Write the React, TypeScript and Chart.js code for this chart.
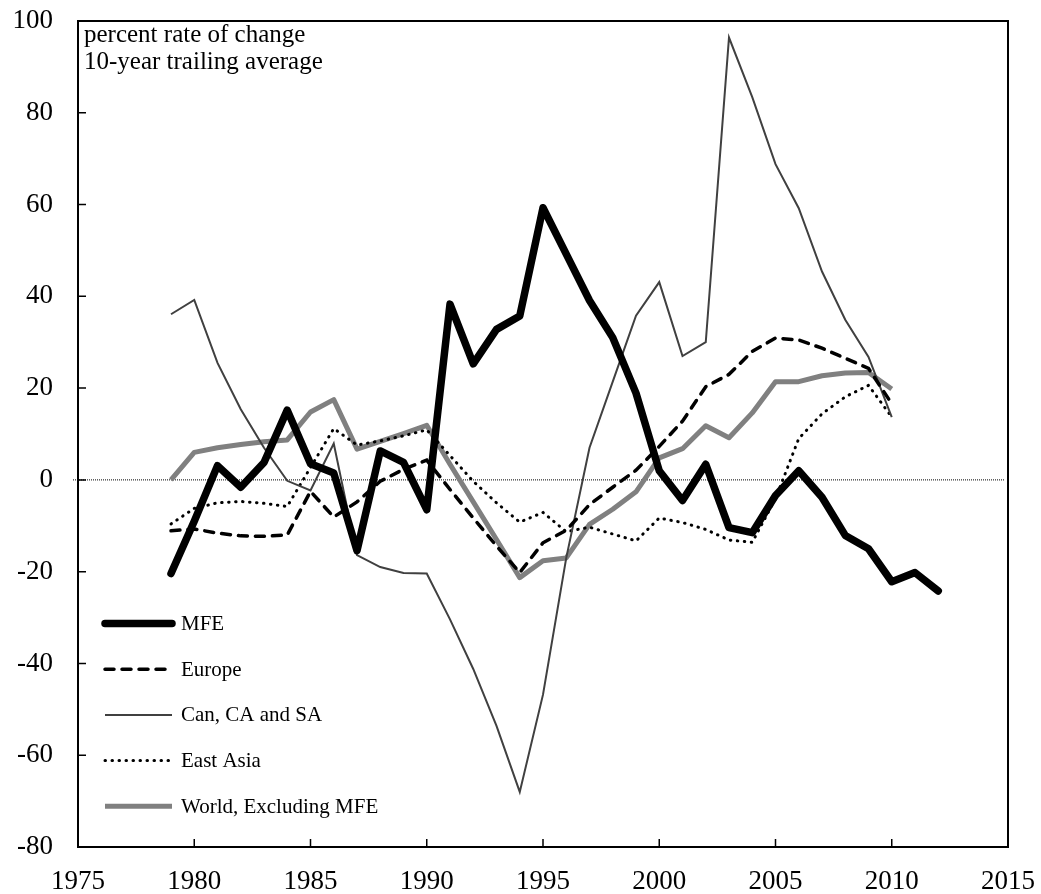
import React, { useEffect, useRef } from "react";
import { Chart, registerables } from "chart.js";

Chart.register(...registerables);

const FONT = "'Liberation Serif', 'Times New Roman', serif";

// Years
const yearsMFE = [
  1979, 1980, 1981, 1982, 1983, 1984, 1985, 1986, 1987, 1988, 1989, 1990,
  1991, 1992, 1993, 1994, 1995, 1996, 1997, 1998, 1999, 2000, 2001, 2002,
  2003, 2004, 2005, 2006, 2007, 2008, 2009, 2010, 2011, 2012,
];
const yearsOther = [
  1979, 1980, 1981, 1982, 1983, 1984, 1985, 1986, 1987, 1988, 1989, 1990,
  1991, 1992, 1993, 1994, 1995, 1996, 1997, 1998, 1999, 2000, 2001, 2002,
  2003, 2004, 2005, 2006, 2007, 2008, 2009, 2010,
];

// Series values (percent rate of change, 10-year trailing average)
const mfe = [
  -20.4, -9, 3.1, -1.6, 3.8, 15.2, 3.5, 1.5, -15.4, 6.3, 3.8, -6.5,
  38.3, 25.3, 32.8, 35.7, 59.3, 49.2, 39.1, 31.0, 18.9, 2.0, -4.5, 3.4,
  -10.4, -11.5, -3.4, 2.0, -3.8, -12.1, -15.0, -22.2, -20.2, -24.2,
];
const europe = [
  -11.1, -10.7, -11.6, -12.2, -12.3, -12.0, -2.5, -8.1, -4.8, -0.3, 2.3, 4.3,
  -2.1, -8.3, -14.4, -20.2, -13.7, -11.0, -5.4, -1.6, 2.1, 7.3, 12.8, 20.3,
  23.0, 28.0, 30.9, 30.5, 28.7, 26.5, 24.3, 16.6,
];
const canCaSa = [
  36.1, 39.2, 25.5, 15.4, 7.0, -0.2, -2.3, 7.9, -16.4, -19.0, -20.3, -20.4,
  -30.4, -41.2, -53.6, -68.0, -46.8, -17.0, 7.0, 21.4, 35.8, 43.1, 27.0, 30.0,
  96.4, 83.4, 68.8, 59.2, 45.4, 34.9, 26.8, 13.7,
];
const eastAsia = [
  -9.6, -6.2, -5.0, -4.7, -5.1, -5.8, 2.7, 11.2, 7.6, 8.5, 9.6, 10.9,
  5.3, -0.3, -5.0, -9.2, -7.1, -11.3, -10.3, -11.8, -13.3, -8.3, -9.3, -10.8,
  -13.1, -13.6, -4.1, 9.0, 14.4, 18.1, 20.6, 13.7,
];
const worldExMFE = [
  0, 6.0, 7.0, 7.7, 8.3, 8.7, 14.8, 17.5, 6.7, 8.4, 10.1, 11.9,
  3.4, -4.8, -13.0, -21.3, -17.6, -17.0, -9.7, -6.4, -2.6, 4.8, 6.8, 11.8,
  9.2, 14.6, 21.4, 21.4, 22.7, 23.3, 23.4, 19.8,
];

const seriesLabels = ["MFE", "Europe", "Can, CA and SA", "East Asia", "World, Excluding MFE"];
const titleLines = ["percent rate of change", "10-year trailing average"];

const pts = (xs: number[], ys: number[]) => ys.map((y, i) => ({ x: xs[i], y }));

const decorPlugin = {
  id: "decor",
  beforeDatasetsDraw(chart: any) {
    const { ctx, chartArea, scales } = chart;
    const y0 = scales.y.getPixelForValue(0);
    ctx.save();
    ctx.strokeStyle = "#000";
    ctx.lineWidth = 1;
    ctx.setLineDash([1, 1]);
    ctx.beginPath();
    ctx.moveTo(chartArea.left - 5, y0);
    ctx.lineTo(chartArea.right - 3, y0);
    ctx.stroke();
    ctx.restore();
  },
  afterDraw(chart: any) {
    const { ctx, chartArea, scales } = chart;
    const { left, right, top, bottom } = chartArea;
    ctx.save();
    // frame
    ctx.strokeStyle = "#000";
    ctx.lineWidth = 2;
    ctx.setLineDash([]);
    ctx.strokeRect(left, top, right - left, bottom - top);
    // inside ticks
    ctx.lineWidth = 1.5;
    ctx.beginPath();
    scales.x.ticks.forEach((t: any) => {
      const px = scales.x.getPixelForValue(t.value);
      ctx.moveTo(px, bottom);
      ctx.lineTo(px, bottom - 8);
    });
    scales.y.ticks.forEach((t: any) => {
      const py = scales.y.getPixelForValue(t.value);
      ctx.moveTo(left, py);
      ctx.lineTo(left + 8, py);
    });
    ctx.stroke();

    // title text inside plot
    ctx.fillStyle = "#000";
    ctx.font = `25px ${FONT}`;
    ctx.textAlign = "left";
    ctx.textBaseline = "alphabetic";
    ctx.fillText(titleLines[0], left + 6, top + 20.5);
    ctx.fillText(titleLines[1], left + 6, top + 47.5);

    // legend inside plot
    const ds = chart.data.datasets;
    const firstY = bottom - 223.5;
    const step = 45.7;
    ds.forEach((d: any, i: number) => {
      const y = firstY + i * step;
      ctx.save();
      ctx.strokeStyle = d.borderColor;
      ctx.lineWidth = d.borderWidth;
      ctx.lineCap = d.borderCapStyle || "butt";
      ctx.setLineDash(d.borderDash || []);
      ctx.beginPath();
      ctx.moveTo(left + 27, y);
      ctx.lineTo(left + 94, y);
      ctx.stroke();
      ctx.restore();
      ctx.fillStyle = "#000";
      ctx.font = `21px ${FONT}`;
      ctx.textBaseline = "middle";
      ctx.fillText(d.label, left + 103, y + 1);
    });
    ctx.restore();
  },
};

export default function App() {
  const ref = useRef<HTMLCanvasElement | null>(null);
  useEffect(() => {
    if (!ref.current) return;
    const chart = new Chart(ref.current, {
      type: "line",
      data: {
        datasets: [
          {
            label: seriesLabels[0],
            data: pts(yearsMFE, mfe),
            borderColor: "#000000",
            borderWidth: 7.5,
            borderCapStyle: "round",
            borderJoinStyle: "round",
          },
          {
            label: seriesLabels[1],
            data: pts(yearsOther, europe),
            borderColor: "#000000",
            borderWidth: 3.5,
            borderDash: [9, 8],
            borderCapStyle: "round",
          },
          {
            label: seriesLabels[2],
            data: pts(yearsOther, canCaSa),
            borderColor: "#404040",
            borderWidth: 2,
          },
          {
            label: seriesLabels[3],
            data: pts(yearsOther, eastAsia),
            borderColor: "#000000",
            borderWidth: 3,
            borderDash: [0.5, 6.5],
            borderCapStyle: "round",
          },
          {
            label: seriesLabels[4],
            data: pts(yearsOther, worldExMFE),
            borderColor: "#808080",
            borderWidth: 5,
            borderJoinStyle: "round",
          },
        ],
      } as any,
      options: {
        responsive: false,
        animation: false,
        layout: { autoPadding: false, padding: { top: 21, right: 33, left: 0, bottom: 0 } },
        elements: { point: { radius: 0 }, line: { tension: 0, fill: false } },
        plugins: { legend: { display: false }, tooltip: { enabled: false } },
        scales: {
          x: {
            type: "linear",
            min: 1975,
            max: 2015,
            ticks: {
              stepSize: 5,
              autoSkip: false,
              maxRotation: 0,
              color: "#000",
              font: { family: FONT, size: 27 },
              padding: 19,
              callback: (v: any) => String(v),
            },
            grid: { display: false, drawTicks: false },
            border: { display: false },
            afterFit: (s: any) => {
              s.height = 47;
              s.paddingLeft = 0;
              s.paddingRight = 0;
            },
          },
          y: {
            type: "linear",
            min: -80,
            max: 100,
            ticks: {
              stepSize: 20,
              color: "#000",
              font: { family: FONT, size: 27 },
              padding: 25,
              callback: (v: any) => String(v),
            },
            grid: { display: false, drawTicks: false },
            border: { display: false },
            afterFit: (s: any) => {
              s.width = 78;
              s.paddingTop = 0;
              s.paddingBottom = 0;
            },
          },
        },
      } as any,
      plugins: [decorPlugin],
    });
    return () => chart.destroy();
  }, []);

  return (
    <div style={{ position: "fixed", left: 0, top: 0, width: 1041, height: 894, background: "#fff" }}>
      <canvas ref={ref} width={1041} height={894} style={{ display: "block" }} />
    </div>
  );
}
